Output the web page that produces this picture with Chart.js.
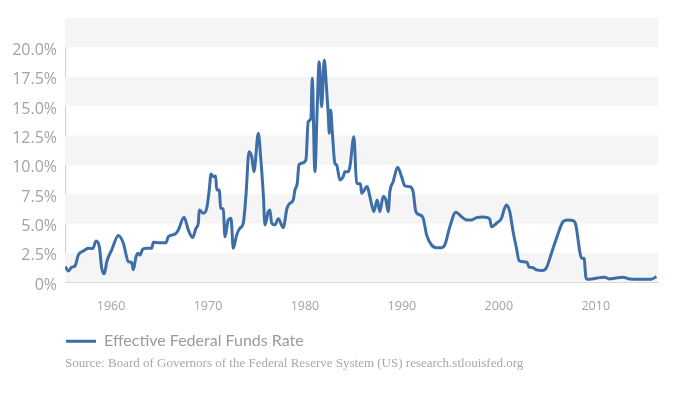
<!DOCTYPE html>
<html>
<head>
<meta charset="utf-8">
<script src="https://cdn.jsdelivr.net/npm/chart.js@4.4.1/dist/chart.umd.min.js"></script>
<style>
    html, body { margin: 0; padding: 0; background: #ffffff; }
    #wrap { width: 684px; height: 395px; }
</style>
</head>
<body>
<div id="wrap"><canvas id="rateChart" width="684" height="395"></canvas></div>
<script>
const seriesName = "Effective Federal Funds Rate";
const sourceText = "Source: Board of Governors of the Federal Reserve System (US) research.stlouisfed.org";

const years = [
    1955.26, 1955.6, 1955.95, 1956.29, 1956.63, 1957.14, 1957.66, 1958.11, 1958.45, 1958.79,
    1959.04, 1959.31, 1959.56, 1960.07, 1960.75, 1961.27, 1961.78, 1962.13, 1962.3, 1962.58,
    1962.81, 1962.99, 1963.27, 1963.68, 1964.2, 1964.36, 1965.05, 1965.67, 1965.91, 1966.6,
    1966.94, 1967.53, 1967.97, 1968.42, 1968.76, 1969.0, 1969.1, 1969.52, 1969.87, 1970.13,
    1970.31, 1970.55, 1970.79, 1970.9, 1971.16, 1971.31, 1971.58, 1971.75, 1972.09, 1972.37,
    1972.61, 1972.96, 1973.3, 1973.64, 1973.92, 1974.23, 1974.51, 1974.74, 1975.19, 1975.43,
    1975.7, 1975.88, 1976.22, 1976.39, 1976.57, 1976.91, 1977.25, 1977.76, 1978.15, 1978.45,
    1978.79, 1978.97, 1979.21, 1979.38, 1979.66, 1980.1, 1980.34, 1980.62, 1980.75, 1981.03,
    1981.27, 1981.47, 1981.72, 1981.99, 1982.24, 1982.4, 1982.51, 1982.65, 1982.81, 1983.09,
    1983.27, 1983.61, 1983.95, 1984.12, 1984.46, 1984.64, 1985.05, 1985.33, 1985.74, 1985.84,
    1986.42, 1986.7, 1987.11, 1987.45, 1987.73, 1988.07, 1988.35, 1988.59, 1988.76, 1989.1,
    1989.56, 1989.97, 1990.31, 1990.82, 1991.16, 1991.44, 1991.86, 1992.2, 1992.55, 1993.06,
    1993.58, 1994.09, 1994.43, 1994.95, 1995.57, 1996.15, 1996.67, 1997.19, 1997.7, 1998.38,
    1998.8, 1999.07, 1999.25, 1999.76, 2000.28, 2000.55, 2000.79, 2001.13, 2001.47, 2001.82,
    2002.09, 2002.51, 2002.92, 2003.12, 2003.54, 2003.89, 2004.51, 2004.92, 2005.43, 2006.01,
    2006.63, 2007.14, 2007.66, 2007.94, 2008.18, 2008.35, 2008.53, 2008.79, 2008.97, 2009.1,
    2009.56, 2010.41, 2010.93, 2011.37, 2011.96, 2012.81, 2013.51, 2014.54, 2015.74, 2016.26
];

const rates = [
    1.33, 0.96, 1.28, 1.39, 2.32, 2.66, 2.89, 2.86, 3.51, 3.03,
    1.19, 0.71, 1.75, 2.75, 3.97, 3.32, 1.75, 1.67, 1.05, 2.18,
    2.47, 2.32, 2.81, 2.89, 2.89, 3.40, 3.37, 3.37, 3.88, 4.09,
    4.45, 5.53, 4.45, 3.80, 4.60, 5.02, 6.15, 5.87, 6.30, 7.86,
    9.22, 8.99, 9.05, 7.86, 7.86, 6.30, 6.24, 3.88, 5.30, 5.45,
    2.89, 4.03, 4.60, 5.02, 7.43, 11.11, 10.69, 9.41, 12.68, 10.69,
    7.57, 4.88, 6.01, 6.15, 5.02, 4.88, 5.40, 4.65, 6.30, 6.72,
    7.00, 7.86, 8.43, 9.98, 10.13, 10.41, 13.67, 13.96, 17.36, 9.41,
    14.94, 18.77, 14.94, 18.92, 16.37, 14.38, 12.68, 14.66, 12.96, 10.13,
    9.98, 8.71, 8.99, 9.41, 9.41, 9.84, 12.39, 8.43, 8.37, 7.57,
    8.14, 7.29, 6.01, 7.00, 6.01, 7.29, 7.00, 6.01, 7.71, 8.56,
    9.79, 8.99, 8.20, 8.14, 7.71, 6.01, 5.73, 5.45, 4.03, 3.17,
    2.94, 2.94, 3.17, 4.73, 5.96, 5.58, 5.30, 5.30, 5.50, 5.55,
    5.50, 5.35, 4.73, 5.02, 5.45, 6.21, 6.58, 6.01, 4.31, 2.89,
    1.84, 1.75, 1.67, 1.28, 1.24, 1.05, 0.99, 1.24, 2.47, 3.88,
    5.16, 5.30, 5.24, 4.88, 3.60, 2.60, 2.04, 2.04, 0.48, 0.26,
    0.28, 0.39, 0.43, 0.28, 0.34, 0.43, 0.28, 0.26, 0.26, 0.48
];

const xTicks = [1960, 1970, 1980, 1990, 2000, 2010];
const yTicks = [0, 2.5, 5, 7.5, 10, 12.5, 15, 17.5, 20];

const lineColor = "#3e6ea8";
const labelColor = "#a3a3a3";

// alternating grey bands behind the plot, every other 2.5% step
const bandPlugin = {
    id: "bands",
    beforeDatasetsDraw(chart) {
        const ctx = chart.ctx;
        const area = chart.chartArea;
        const y = chart.scales.y;
        ctx.save();
        ctx.fillStyle = "#f5f5f5";
        for (let v = 0; v < y.max; v += 5) {
            const top = y.getPixelForValue(Math.min(v + 2.5, y.max));
            const bottom = y.getPixelForValue(v);
            ctx.fillRect(area.left, top, area.right - area.left, bottom - top);
        }
        ctx.restore();
    }
};

// legend and source line start under the plot, not at the canvas edge
const indentPlugin = {
    id: "indent",
    afterLayout(chart) {
        chart.boxes.forEach(box => {
            if (box === chart.legend) {
                box.left = 66;
            } else if (box.options && box.options.text === sourceText) {
                box.left = 65;
            }
        });
    }
};

const points = years.map((year, i) => ({ x: year, y: rates[i] }));

new Chart("rateChart", {
    type: "line",
    data: {
        datasets: [
            {
                label: seriesName,
                data: points,
                borderColor: lineColor,
                backgroundColor: lineColor,
                borderWidth: 3,
                pointRadius: 0,
                cubicInterpolationMode: "monotone"
            }
        ]
    },
    options: {
        responsive: false,
        animation: false,
        layout: {
            padding: { left: 0, right: 26, top: 18, bottom: 0 }
        },
        scales: {
            x: {
                type: "linear",
                min: 1955.25,
                max: 2016.42,
                grid: { display: false, drawTicks: false },
                border: { color: "#d0d0d0", width: 1 },
                afterBuildTicks: scale => {
                    scale.ticks = xTicks.map(v => ({ value: v }));
                },
                afterFit: scale => {
                    scale.height = 51;
                },
                ticks: {
                    color: labelColor,
                    padding: 17,
                    maxRotation: 0,
                    font: { family: "Open Sans", size: 12.5 },
                    callback: value => String(value)
                }
            },
            y: {
                min: 0,
                max: 22.5,
                grid: { display: false, drawTicks: false },
                border: { color: "#d0d0d0", width: 1 },
                afterBuildTicks: scale => {
                    scale.ticks = yTicks.map(v => ({ value: v }));
                },
                afterFit: scale => {
                    scale.width = 65;
                },
                ticks: {
                    color: labelColor,
                    padding: 8,
                    labelOffset: 3,
                    font: { family: "Open Sans", size: 16 },
                    callback: value => value === 0 ? "0%" : value.toFixed(1) + "%"
                }
            }
        },
        plugins: {
            legend: {
                position: "bottom",
                align: "start",
                labels: {
                    color: "#9a9a9a",
                    padding: 0,
                    usePointStyle: true,
                    pointStyle: "line",
                    pointStyleWidth: 30,
                    font: { family: "Lato", size: 16 }
                }
            },
            subtitle: {
                display: true,
                text: sourceText,
                position: "bottom",
                align: "start",
                color: "#a8a8a8",
                font: { family: "Liberation Serif", size: 13, lineHeight: 0.6 },
                padding: { top: 0, bottom: 28 }
            },
            tooltip: { enabled: false }
        }
    },
    plugins: [bandPlugin, indentPlugin]
});
</script>
</body>
</html>
